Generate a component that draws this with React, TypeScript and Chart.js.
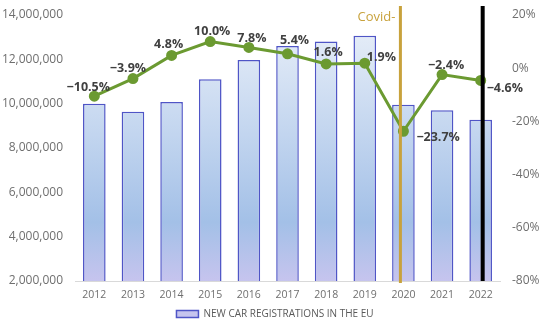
import React, { useEffect, useRef } from "react";
import { Chart, registerables } from "chart.js";

Chart.register(...registerables);

const years = ["2012", "2013", "2014", "2015", "2016", "2017", "2018", "2019", "2020", "2021", "2022"];
const registrations = [10000000, 9640000, 10080000, 11100000, 11970000, 12600000, 12800000, 13060000, 9950000, 9700000, 9270000];
const growth = [-10.5, -3.9, 4.8, 10.0, 7.8, 5.4, 1.6, 1.9, -23.7, -2.4, -4.6];
const leftTicks = [2000000, 4000000, 6000000, 8000000, 10000000, 12000000, 14000000];
const rightTicks = [-80, -60, -40, -20, 0, 20];
const covidYear = "2020";
const endYear = "2022";
const legendLabel = "NEW CAR REGISTRATIONS IN THE EU";
const covidLabel = "Covid-";

const FONT = "'Open Sans', 'Liberation Sans', sans-serif";
const labelOffsets: [number, number][] = [
  [-6, -9], [-5, -10], [-3, -11], [2, -10], [3, -9], [7, -13], [2, -12], [16, -6], [27, 6], [4, -9], [20, 8],
];

function fmtPct(v: number) {
  return (v < 0 ? "\u2212" + Math.abs(v).toFixed(1) : v.toFixed(1)) + "%";
}

export default function App() {
  const ref = useRef<HTMLCanvasElement>(null);
  useEffect(() => {
    if (!ref.current) return;
    const overlay = {
      id: "overlay",
      afterDatasetsDraw(chart: any) {
        const { ctx, chartArea, scales } = chart;
        const x = scales.x;
        ctx.save();
        const cx = x.getPixelForValue(years.indexOf(covidYear)) - 3;
        ctx.strokeStyle = "#c8a23c";
        ctx.lineWidth = 3;
        ctx.beginPath();
        ctx.moveTo(cx, 6);
        ctx.lineTo(cx, chartArea.bottom + 2);
        ctx.stroke();
        const ex = x.getPixelForValue(years.indexOf(endYear)) + 2;
        ctx.strokeStyle = "#000000";
        ctx.lineWidth = 4;
        ctx.beginPath();
        ctx.moveTo(ex, 6);
        ctx.lineTo(ex, chartArea.bottom);
        ctx.stroke();
        ctx.fillStyle = "#c8a23c";
        ctx.font = `13px ${FONT}`;
        ctx.textAlign = "right";
        ctx.textBaseline = "middle";
        ctx.fillText(covidLabel, cx - 5, 17);
        const meta = chart.getDatasetMeta(1);
        ctx.font = `bold 12.5px ${FONT}`;
        ctx.fillStyle = "#404040";
        ctx.textAlign = "center";
        meta.data.forEach((pt: any, i: number) => {
          const [dx, dy] = labelOffsets[i] || [0, -10];
          const txt = fmtPct(growth[i]);
          const w = ctx.measureText(txt).width;
          let px = pt.x + dx;
          if (i === 7 || i === 8 || i === 10) px = pt.x + dx - 14 + w / 2;
          ctx.fillText(txt, px, pt.y + dy);
        });
        ctx.restore();
      },
    };
    const barFill = (c: any) => {
      const chart = c.chart;
      const area = chart.chartArea;
      if (!area) return "#b4cbea";
      const g = chart.ctx.createLinearGradient(0, area.top, 0, area.bottom);
      g.addColorStop(0, "#eaf0f9");
      g.addColorStop(0.45, "#c2d5ef");
      g.addColorStop(0.78, "#a3c0e7");
      g.addColorStop(1, "#c6c4ee");
      return g;
    };
    const fitV = (w: number) => (s: any) => {
      s.width = w;
      s.paddingTop = 0;
      s.paddingBottom = 0;
    };
    const chart = new Chart(ref.current, {
      data: {
        labels: years,
        datasets: [
          {
            type: "bar",
            label: legendLabel,
            data: registrations,
            backgroundColor: barFill,
            borderColor: "#4f55c6",
            borderWidth: 1.5,
            yAxisID: "y",
            categoryPercentage: 1,
            barPercentage: 0.585,
            order: 2,
          },
          {
            type: "line",
            label: "growth",
            data: growth,
            borderColor: "#6b9a31",
            backgroundColor: "#6b9a31",
            borderWidth: 3,
            pointRadius: 4,
            pointHoverRadius: 4,
            yAxisID: "y1",
            order: 1,
          },
        ],
      } as any,
      options: {
        animation: false,
        responsive: false,
        maintainAspectRatio: false,
        layout: { padding: { top: 15, bottom: -5, left: 0, right: 0 } },
        plugins: {
          tooltip: { enabled: false },
          legend: {
            position: "bottom",
            labels: {
              filter: (item: any) => item.datasetIndex === 0,
              boxWidth: 22,
              boxHeight: 7,
              color: "#595959",
              font: { family: FONT, size: 10 },
              padding: 1,
            },
          },
        },
        scales: {
          x: {
            grid: { display: false, drawTicks: false },
            border: { display: true, color: "#d9d9d9", width: 1 },
            ticks: { color: "#6f6f6f", font: { family: FONT, size: 10.5 }, padding: 8 },
            afterFit: (s: any) => { s.height = 27; s.paddingLeft = 0; s.paddingRight = 0; },
          },
          y: {
            position: "left",
            min: 2000000,
            max: 14000000,
            afterBuildTicks: (s: any) => { s.ticks = leftTicks.map((v) => ({ value: v })); },
            grid: { display: false, drawTicks: false },
            border: { display: false },
            ticks: {
              color: "#6f6f6f",
              font: { family: FONT, size: 12 },
              padding: 12,
              callback: (v: any) => Number(v).toLocaleString("en-US"),
            },
            afterFit: fitV(75),
          },
          y1: {
            position: "right",
            min: -80,
            max: 20,
            afterBuildTicks: (s: any) => { s.ticks = rightTicks.map((v) => ({ value: v })); },
            grid: { display: false, drawTicks: false },
            border: { display: false },
            ticks: {
              color: "#6f6f6f",
              font: { family: FONT, size: 12 },
              padding: 12,
              callback: (v: any) => v + "%",
            },
            afterFit: fitV(50),
          },
        },
      } as any,
      plugins: [overlay],
    });
    return () => chart.destroy();
  }, []);
  return (
    <div style={{ position: "fixed", left: 0, top: 0, width: 550, height: 324, background: "#fff" }}>
      <canvas ref={ref} width={550} height={324} style={{ width: 550, height: 324 }} />
    </div>
  );
}
